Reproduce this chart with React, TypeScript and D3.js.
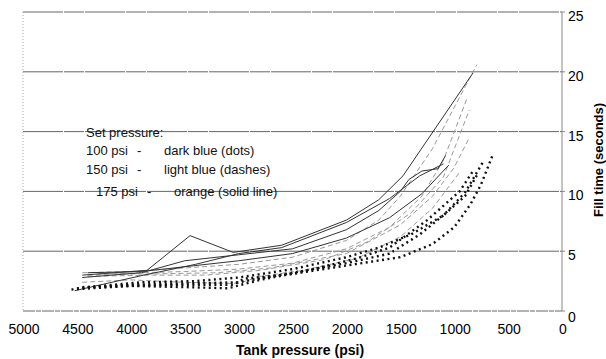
import * as d3 from 'd3';
import React from 'react';

// tank pressure (psi) vs fill time (s)
const xTicks = [5000, 4500, 4000, 3500, 3000, 2500, 2000, 1500, 1000, 500, 0];
const yTicks = [0, 5, 10, 15, 20, 25];

// 175 psi - solid
const solid175: number[][][] = [
  [[4450, 3.0], [3850, 3.4], [3450, 6.3], [3050, 4.9], [2600, 5.5], [2000, 7.6], [1700, 9.3], [1475, 11.3], [826, 19.9]],
  [[4520, 1.7], [3880, 3.0], [3400, 3.9], [3000, 4.8], [2600, 5.3], [2000, 7.4], [1600, 9.4], [1320, 11.3], [1100, 12.3]],
  [[4450, 2.8], [3900, 3.2], [3500, 4.2], [3000, 4.7], [2500, 5.2], [2000, 6.8], [1700, 8.4], [1500, 10.0], [1420, 11.0], [1300, 11.7], [1150, 11.9], [1080, 13.0]],
  [[4400, 3.2], [3900, 3.3], [3500, 3.7], [3000, 4.2], [2500, 4.8], [2000, 6.1], [1600, 7.8], [1300, 9.8], [1050, 12.2]],
];

// 150 psi - dashes
const dashed150: number[][][] = [
  [[4450, 3.2], [4000, 3.3], [3500, 3.6], [3000, 3.9], [2500, 4.5], [2000, 5.9], [1700, 7.6], [1500, 9.6], [1200, 13.6], [790, 20.6]],
  [[4400, 3.0], [3900, 3.2], [3500, 3.3], [3000, 3.5], [2500, 4.0], [2000, 5.2], [1600, 7.0], [1300, 9.6], [1100, 12.6], [880, 17.8]],
  [[4400, 2.9], [3800, 3.0], [3300, 3.0], [2800, 3.4], [2200, 4.3], [1800, 5.8], [1400, 8.2], [1100, 11.2], [860, 16.8]],
  [[4300, 3.1], [3800, 3.1], [3200, 3.2], [2700, 3.6], [2000, 4.8], [1500, 7.2], [1200, 9.6], [1000, 12.0], [860, 14.5]],
  [[4450, 2.4], [4000, 2.6], [3500, 2.4], [3000, 2.3], [2800, 2.9], [2400, 3.4], [1900, 4.4], [1500, 6.2], [1200, 8.6], [950, 11.6]],
];

// 100 psi - dots
const dotted100: number[][][] = [
  [[4550, 1.8], [4000, 2.1], [3500, 2.2], [3050, 2.2], [2950, 2.7], [2500, 3.1], [2000, 3.8], [1500, 4.5], [1200, 5.6], [1000, 7.0], [850, 8.9], [750, 10.6], [640, 13.1]],
  [[4500, 1.9], [4000, 2.2], [3500, 2.3], [3000, 2.4], [2500, 3.2], [2000, 4.0], [1600, 4.8], [1320, 6.4], [1100, 8.0], [900, 9.9], [730, 12.5]],
  [[4450, 2.0], [4000, 2.1], [3500, 2.0], [3100, 1.9], [2800, 2.6], [2400, 3.3], [1900, 4.4], [1600, 5.3], [1250, 7.6], [950, 10.0], [826, 11.7]],
  [[4400, 2.0], [3900, 2.4], [3400, 2.5], [3000, 2.8], [2500, 3.5], [2000, 4.5], [1700, 5.3], [1400, 6.4], [1100, 8.0], [900, 9.6], [780, 11.5]],
];

const legendRows = [
  { label: 'Set pressure:', psi: '', name: '' },
  { label: '100 psi', psi: '-', name: 'dark blue (dots)' },
  { label: '150 psi', psi: '-', name: 'light blue (dashes)' },
  { label: '175 psi', psi: '-', name: 'orange (solid line)' },
];

const W = 606;
const H = 359;
const font = '"Liberation Sans", Arial, sans-serif';

export default function App() {
  const x = d3.scaleLinear().domain([5000, 0]).range([23, 562]);
  const y = d3.scaleLinear().domain([0, 25]).range([311, 12]);
  const line = d3.line<number[]>().x(d => x(d[0])).y(d => y(d[1]));

  return (
    <svg width={W} height={H} style={{ position: 'absolute', left: 0, top: 0, background: '#fff' }}
      fontFamily={font}>
      {/* gridlines */}
      {yTicks.filter(t => t > 0).map(t => (
        <line key={t} x1={x(5000)} x2={x(0)} y1={y(t)} y2={y(t)} stroke="#666" strokeWidth={1} strokeDasharray="40 1 20 1" />
      ))}
      <line x1={x(5000)} x2={x(5000)} y1={y(25)} y2={y(0)} stroke="#aaa" strokeDasharray="1 2" />
      <line x1={x(5000)} x2={x(0)} y1={y(0)} y2={y(0)} stroke="#666" strokeDasharray="12 1 5 1" />
      <line x1={x(0)} x2={x(0)} y1={y(25)} y2={y(0)} stroke="#888" />
      {yTicks.map(t => (
        <line key={t} x1={x(0)} x2={x(0) + 3} y1={y(t)} y2={y(t)} stroke="#888" />
      ))}

      {/* legend text */}
      {legendRows.map((r, i) => {
        const ly = [y(15), 150, 169, y(10)][i] + 5;
        const dx = i === 3 ? 10 : 0;
        return (
          <g key={i} fontSize={13} fill="#111">
            <text x={86 + dx} y={ly}>{r.label}</text>
            <text x={137 + dx} y={ly}>{r.psi}</text>
            <text x={164 + dx} y={ly}>{r.name}</text>
          </g>
        );
      })}

      {/* series */}
      {dashed150.map((s, i) => (
        <path key={'d' + i} d={line(s) || ''} fill="none" stroke="#999" strokeWidth={1} strokeDasharray="5 3" />
      ))}
      {solid175.map((s, i) => (
        <path key={'s' + i} d={line(s) || ''} fill="none" stroke="#333" strokeWidth={1} />
      ))}
      {dotted100.map((s, i) => (
        <path key={'t' + i} d={line(s) || ''} fill="none" stroke="#111" strokeWidth={2.4} strokeDasharray="2 3.5" />
      ))}

      {/* x tick labels */}
      {xTicks.map(t => (
        <text key={t} x={x(t) + 1} y={334} fontSize={14} textAnchor="middle" fill="#000">{t}</text>
      ))}
      {/* y tick labels */}
      {yTicks.map(t => (
        <text key={t} x={568} y={t === 0 ? y(t) + 11 : y(t) + 9} fontSize={14} fill="#000">{t}</text>
      ))}

      <text x={300} y={355} fontSize={14} fontWeight="bold" textAnchor="middle">Tank pressure (psi)</text>
      <text transform={`translate(603,160) rotate(-90)`} fontSize={13} fontWeight="bold" textAnchor="middle">Fill time (seconds)</text>
    </svg>
  );
}
